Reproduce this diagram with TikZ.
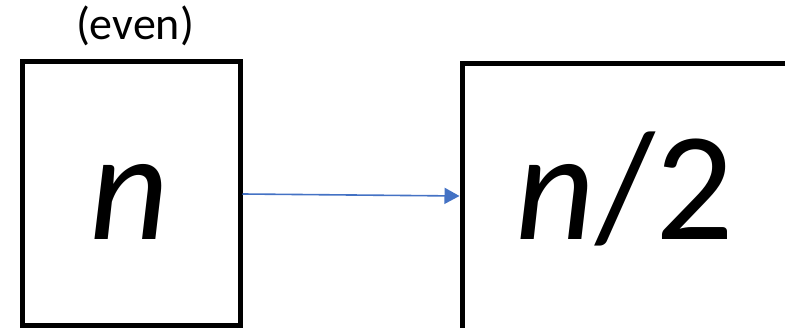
\documentclass[tikz,border=0pt]{standalone}
\usepackage{fontspec}
\setmainfont{Carlito}
\usepackage{tikz}
\usetikzlibrary{arrows.meta}
\definecolor{arrowblue}{HTML}{4472C4}

\begin{document}
\begin{tikzpicture}[x=1pt, y=-1pt,
        numbox/.style={draw, line width=5pt, inner sep=0pt},
        big/.style={anchor=base, inner sep=0pt, font=\fontsize{155}{155}\selectfont}]
        \useasboundingbox (0, 0) rectangle (785, 328);
        \node[numbox, minimum width=218pt, minimum height=264pt] (nbox) at (131, 194) {};
        \node[numbox, minimum width=400pt, minimum height=300pt] (halfbox) at (662, 214) {};
        \node[anchor=base, inner sep=0pt, font=\fontsize{46}{46}\selectfont] (even) at (135, 40) {(even)};
        \node[big] (nlabel) at (129, 240) {\textit{n}};
        \node[big] (halflabel) at (625, 240) {\textit{n}/2};
        \draw[-{Triangle[length=15pt, width=16pt]}, arrowblue, line width=1.6pt] (nbox.east) -- ([yshift=-2pt]nbox.east -| halfbox.west);
    \end{tikzpicture}
\end{document}
